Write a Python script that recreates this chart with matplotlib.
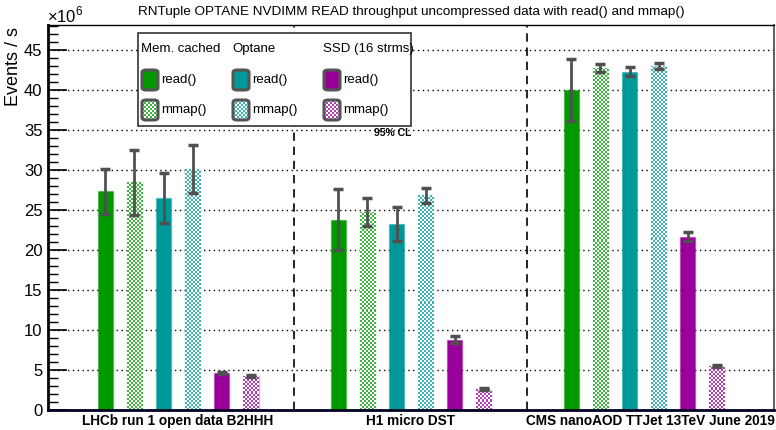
import numpy as np
import matplotlib
matplotlib.use('Agg')
import matplotlib.pyplot as plt
from matplotlib.patches import FancyBboxPatch, Rectangle
from matplotlib.colors import to_rgba

plt.rcParams['font.family'] = ['Liberation Sans', 'DejaVu Sans']
plt.rcParams['mathtext.fontset'] = 'custom'
plt.rcParams['mathtext.rm'] = 'Liberation Sans'

# data (millions of events / s)
samples = ['LHCb run 1 open data B2HHH', 'H1 micro DST',
           'CMS nanoAOD TTJet 13TeV June 2019']
read_mem = [27.3, 23.8, 40.0]
read_mem_err = [2.85, 3.8, 3.9]
mmap_mem = [28.45, 24.75, 42.75]
mmap_mem_err = [4.05, 1.7, 0.5]
read_opt = [26.45, 23.2, 42.25]
read_opt_err = [3.1, 2.1, 0.55]
mmap_opt = [30.05, 26.8, 43.0]
mmap_opt_err = [3.0, 0.95, 0.35]
read_ssd = [4.6, 8.8, 21.65]
read_ssd_err = [0.1, 0.45, 0.55]
mmap_ssd = [4.25, 2.6, 5.5]
mmap_ssd_err = [0.1, 0.1, 0.1]

headers = ['Mem. cached', 'Optane', 'SSD (16 strms)']
green, teal, purple = '#009900', '#009999', '#990099'

series = [
    (read_mem, read_mem_err, green, False),
    (mmap_mem, mmap_mem_err, green, True),
    (read_opt, read_opt_err, teal, False),
    (mmap_opt, mmap_opt_err, teal, True),
    (read_ssd, read_ssd_err, purple, False),
    (mmap_ssd, mmap_ssd_err, purple, True),
]

W, H = 776, 430
fig = plt.figure(figsize=(W / 100, H / 100), dpi=100)
ax = fig.add_axes([48 / W, 20 / H, 726 / W, 385 / H])
ax.set_xlim(-0.056, 3.06)
ax.set_ylim(0, 48.1)


def checker(color, nx, ny):
    # ROOT-like fill pattern: small coloured squares on white
    c = np.array(to_rgba(color))
    light = 0.75 * c + 0.25 * np.array([1, 1, 1, 1])
    img = np.ones((ny, nx, 4))
    yy, xx = np.mgrid[0:ny, 0:nx]
    img[((xx + yy) % 2) == 0] = light
    return img


bw = 0.065
groups = np.arange(len(samples))
for i, (vals, errs, col, pattern) in enumerate(series):
    xs = groups + 0.19 + 0.125 * i
    if pattern:
        bars = ax.bar(xs, vals, width=bw, color='none',
                      edgecolor=to_rgba(col, 0.3), linewidth=1, zorder=2)
        for b, v in zip(bars, vals):
            x0 = b.get_x()
            p0 = ax.transData.transform((x0, 0))
            p1 = ax.transData.transform((x0 + bw, v))
            nx = max(1, int(round((p1[0] - p0[0]) / 2)))
            ny = max(1, int(round((p1[1] - p0[1]) / 2)))
            im = ax.imshow(checker(col, nx, ny), extent=[x0, x0 + bw, 0, v],
                           aspect='auto', interpolation='nearest', zorder=2)
            im.set_clip_path(b)
    else:
        ax.bar(xs, vals, width=bw, color=col,
               edgecolor=to_rgba(col, 0.35), linewidth=1, zorder=2)
    ax.errorbar(xs, vals, yerr=errs, fmt='none', ecolor='#505050',
                elinewidth=2, capsize=3.5, capthick=2.5, zorder=3)

ax.set_xlim(-0.056, 3.06)
ax.set_ylim(0, 48.1)

# grid and separators
for yv in range(5, 50, 5):
    ax.axhline(yv, color='black', lw=1, ls=(0, (1, 2.5)), zorder=1)
for xv in [1, 2]:
    ax.axvline(xv, color='black', lw=1.2, ls=(0, (5, 3.5)), zorder=1)

ax.set_yticks(np.arange(0, 50, 5))
ax.set_yticks(np.arange(0, 49, 1), minor=True)
ax.tick_params(axis='y', which='major', direction='in', length=14, width=1.2,
               labelsize=12, pad=4)
ax.tick_params(axis='y', which='minor', direction='in', length=7, width=1)
ax.set_xticks(groups + [0.5, 0.5, 0.53])
ax.set_xticklabels(samples, fontsize=9.8, fontweight='bold')
ax.tick_params(axis='x', length=0, pad=3)

ax.spines['left'].set_linewidth(2)
ax.spines['bottom'].set_linewidth(2)
ax.spines['bottom'].set_color('#000022')
ax.spines['top'].set_linewidth(1)
ax.spines['right'].set_linewidth(1.2)
ax.spines['right'].set_color('#444444')


# legend, drawn by hand in axes pixels
def fx(px):
    return (px - 48) / 726


def fy(py):
    return (410 - py) / 385


ax.add_patch(Rectangle((fx(138), fy(126)), fx(411) - fx(138), fy(33) - fy(126),
                       transform=ax.transAxes, facecolor='white', edgecolor='#333333',
                       lw=1.2, zorder=5))
col_x = [141, 232, 323]
for k, (hdr, col) in enumerate(zip(headers, [green, teal, purple])):
    cx = col_x[k]
    ax.text(fx(cx), fy(49), hdr, transform=ax.transAxes, fontsize=9.5,
            ha='left', va='center', zorder=6)
    for row_y, pattern, lab in [(80, False, 'read()'), (110, True, 'mmap()')]:
        bx0, by0 = fx(cx + 1), fy(row_y + 10)
        bwid, bhei = fx(cx + 17) - fx(cx + 1), fy(row_y - 10) - fy(row_y + 10)
        if pattern:
            iax = ax.inset_axes([bx0, by0, bwid, bhei], zorder=6)
            iax.imshow(checker(col, 8, 10), aspect='auto', interpolation='nearest')
            iax.set_xticks([])
            iax.set_yticks([])
            for s in iax.spines.values():
                s.set_visible(False)
        box = FancyBboxPatch((bx0, by0), bwid, bhei,
                             boxstyle='round,pad=0,rounding_size=0.006',
                             transform=ax.transAxes,
                             facecolor='none' if pattern else col,
                             edgecolor='#555555', lw=2.2, zorder=7)
        ax.add_patch(box)
        ax.text(fx(cx + 20), fy(row_y), lab, transform=ax.transAxes, fontsize=9.5,
                ha='left', va='center', zorder=7)

ax.text(fx(411), fy(133), '95% CL', transform=ax.transAxes, fontsize=7.5,
        fontweight='bold', ha='right', va='center', zorder=6)

fig.text(411 / W, 1 - 12 / H,
         'RNTuple OPTANE NVDIMM READ throughput uncompressed data with read() and mmap()',
         ha='center', va='center', fontsize=9.7)
fig.text(13 / W, 1 - 27 / H, 'Events / s', rotation=90, ha='center', va='top',
         fontsize=13)
fig.text(47 / W, 1 - 22 / H, r'$\times10^{6}$', ha='left', va='baseline', fontsize=12)

fig.savefig('out.png', dpi=100)
